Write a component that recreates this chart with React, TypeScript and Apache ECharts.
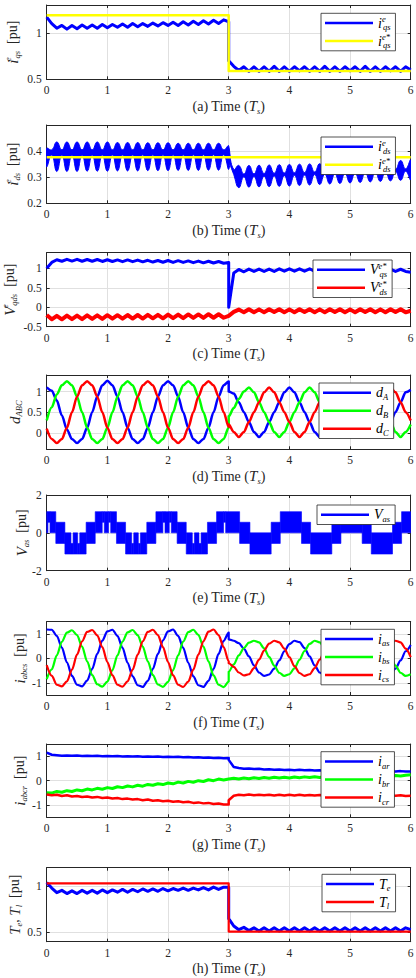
import React, { useEffect, useRef } from "react";
import * as echarts from "echarts";

const FONT = '"Liberation Serif", "DejaVu Serif", serif';
const AX = "#262626";
const GRIDC = "#e0e0e0";
const BLUE = "#0000ff";
const RED = "#ff0000";
const GREEN = "#00ff00";
const YELLOW = "#ffff00";

const STEP = 1 / 12; // sampling step (Ts) of the values
const X_TICKS = [0, 1, 2, 3, 4, 5, 6];

// ---------- (a) i_qs ----------
const A_IQS_PRE = [1.17, 1.1, 1.05, 1.08, 1.04, 1.08, 1.045, 1.085, 1.05, 1.085, 1.05, 1.09, 1.055, 1.09, 1.06, 1.095, 1.06, 1.1, 1.065, 1.1, 1.07, 1.105, 1.075, 1.11, 1.08, 1.115, 1.08, 1.12, 1.085, 1.125, 1.09, 1.13, 1.095, 1.135, 1.1, 1.14, 1.12];
const A_IQS_POST = [0.7, 0.64, 0.595, 0.635, 0.585, 0.635, 0.585, 0.635, 0.585, 0.64, 0.585, 0.635, 0.585, 0.635, 0.59, 0.635, 0.585, 0.635, 0.585, 0.64, 0.585, 0.635, 0.585, 0.635, 0.59, 0.635, 0.585, 0.64, 0.585, 0.635, 0.585, 0.635, 0.59, 0.635, 0.585, 0.635, 0.6];
const A_REF_T = [0, 3, 3, 6];
const A_REF_V = [1.19, 1.19, 0.59, 0.59];
const A_Y_TICKS = [0.5, 1];

// ---------- (b) i_ds (envelope of the band) ----------
const B_HI_PRE = [0.41, 0.405, 0.435, 0.405, 0.435, 0.405, 0.435, 0.405, 0.435, 0.405, 0.435, 0.405, 0.435, 0.405, 0.433, 0.405, 0.433, 0.405, 0.433, 0.405, 0.432, 0.405, 0.432, 0.405, 0.432, 0.405, 0.43, 0.405, 0.43, 0.405, 0.43, 0.405, 0.43, 0.405, 0.43, 0.405, 0.42];
const B_LO_PRE = [0.34, 0.385, 0.322, 0.385, 0.322, 0.385, 0.322, 0.385, 0.323, 0.385, 0.323, 0.385, 0.323, 0.385, 0.324, 0.385, 0.324, 0.385, 0.324, 0.386, 0.325, 0.386, 0.325, 0.386, 0.325, 0.386, 0.326, 0.386, 0.326, 0.386, 0.326, 0.386, 0.327, 0.386, 0.327, 0.386, 0.33];
const B_HI_POST = [0.4, 0.33, 0.345, 0.312, 0.345, 0.313, 0.346, 0.314, 0.347, 0.315, 0.348, 0.316, 0.349, 0.317, 0.35, 0.318, 0.351, 0.32, 0.352, 0.321, 0.353, 0.322, 0.355, 0.323, 0.356, 0.324, 0.357, 0.326, 0.358, 0.327, 0.36, 0.328, 0.362, 0.33, 0.364, 0.332, 0.366];
const B_LO_POST = [0.37, 0.31, 0.26, 0.302, 0.262, 0.303, 0.263, 0.304, 0.264, 0.305, 0.265, 0.306, 0.266, 0.307, 0.268, 0.308, 0.27, 0.31, 0.272, 0.311, 0.274, 0.312, 0.276, 0.314, 0.278, 0.315, 0.28, 0.317, 0.282, 0.318, 0.284, 0.32, 0.286, 0.322, 0.288, 0.323, 0.29];
const B_REF_T = [0, 6];
const B_REF_V = [0.376, 0.376];
const B_Y_TICKS = [0.2, 0.3, 0.4];

// ---------- (c) V_qs*, V_ds* ----------
const C_VQ_PRE = [1.0, 1.15, 1.22, 1.18, 1.23, 1.185, 1.23, 1.18, 1.225, 1.18, 1.225, 1.175, 1.22, 1.175, 1.215, 1.17, 1.215, 1.17, 1.21, 1.165, 1.205, 1.16, 1.2, 1.155, 1.2, 1.15, 1.195, 1.15, 1.19, 1.145, 1.185, 1.14, 1.18, 1.135, 1.175, 1.13, 1.15];
const C_VQ_POST = [0.0, 0.88, 0.97, 0.91, 0.98, 0.92, 0.98, 0.92, 0.98, 0.92, 0.985, 0.925, 0.985, 0.925, 0.985, 0.925, 0.985, 0.925, 0.985, 0.925, 0.985, 0.925, 0.985, 0.925, 0.985, 0.925, 0.985, 0.925, 0.98, 0.92, 0.98, 0.92, 0.98, 0.92, 0.975, 0.92, 0.9];
const C_VD_PRE = [-0.2, -0.31, -0.22, -0.31, -0.215, -0.305, -0.215, -0.305, -0.21, -0.3, -0.21, -0.3, -0.205, -0.295, -0.205, -0.295, -0.2, -0.29, -0.2, -0.29, -0.195, -0.285, -0.195, -0.285, -0.19, -0.28, -0.19, -0.28, -0.185, -0.275, -0.185, -0.275, -0.18, -0.27, -0.18, -0.27, -0.22];
const C_VD_POST = [-0.22, -0.12, -0.06, -0.13, -0.05, -0.13, -0.055, -0.13, -0.05, -0.125, -0.05, -0.13, -0.055, -0.13, -0.05, -0.125, -0.05, -0.13, -0.055, -0.13, -0.05, -0.125, -0.05, -0.13, -0.055, -0.13, -0.05, -0.125, -0.05, -0.13, -0.055, -0.13, -0.05, -0.125, -0.05, -0.13, -0.09];
const C_Y_TICKS = [-0.5, 0, 0.5, 1];

// ---------- (d) d_ABC ----------
const D_A_PRE = [1.1, 1.02, 0.78, 0.42, 0.08, -0.15, -0.25, -0.15, 0.12, 0.5, 0.88, 1.15, 1.26, 1.15, 0.875, 0.5, 0.125, -0.15, -0.25, -0.15, 0.125, 0.5, 0.875, 1.15, 1.25, 1.15, 0.875, 0.5, 0.125, -0.15, -0.25, -0.15, 0.125, 0.5, 0.875, 1.15, 1.24];
const D_B_PRE = [0.3, 0.62, 0.93, 1.15, 1.25, 1.15, 0.875, 0.5, 0.125, -0.15, -0.25, -0.15, 0.125, 0.5, 0.875, 1.15, 1.25, 1.15, 0.875, 0.5, 0.125, -0.15, -0.25, -0.15, 0.125, 0.5, 0.875, 1.15, 1.25, 1.15, 0.875, 0.5, 0.125, -0.15, -0.25, -0.15, 0.13];
const D_C_PRE = [0.1, -0.15, -0.25, -0.15, 0.125, 0.5, 0.875, 1.15, 1.25, 1.15, 0.875, 0.5, 0.125, -0.15, -0.25, -0.15, 0.125, 0.5, 0.875, 1.15, 1.25, 1.15, 0.875, 0.5, 0.125, -0.15, -0.25, -0.15, 0.125, 0.5, 0.875, 1.15, 1.25, 1.15, 0.875, 0.5, 0.14];
const D_A_POST = [1.0, 0.95, 0.74, 0.5, 0.26, 0.02, -0.1, 0.02, 0.26, 0.5, 0.74, 0.98, 1.1, 0.98, 0.74, 0.5, 0.26, 0.02, -0.1, 0.02, 0.26, 0.5, 0.74, 0.98, 1.1, 0.98, 0.74, 0.5, 0.26, 0.02, -0.1, 0.02, 0.26, 0.5, 0.74, 0.98, 1.04];
const D_B_POST = [0.4, 0.6, 0.82, 1.0, 1.1, 0.98, 0.74, 0.5, 0.26, 0.02, -0.1, 0.02, 0.26, 0.5, 0.74, 0.98, 1.1, 0.98, 0.74, 0.5, 0.26, 0.02, -0.1, 0.02, 0.26, 0.5, 0.74, 0.98, 1.1, 0.98, 0.74, 0.5, 0.26, 0.02, -0.1, 0.02, 0.2];
const D_C_POST = [0.2, 0.02, -0.1, 0.02, 0.26, 0.5, 0.74, 0.98, 1.1, 0.98, 0.74, 0.5, 0.26, 0.02, -0.1, 0.02, 0.26, 0.5, 0.74, 0.98, 1.1, 0.98, 0.74, 0.5, 0.26, 0.02, -0.1, 0.02, 0.26, 0.5, 0.74, 0.98, 1.1, 0.98, 0.74, 0.5, 0.3];
const D_Y_TICKS = [0, 0.5, 1];

// ---------- (e) V_as : PWM blocks (interval edges, lower / upper level) ----------
const E_EDGES = [0, 0.02, 0.055, 0.15, 0.3, 0.4, 0.435, 0.51, 0.545, 0.65, 0.8, 0.915, 0.95, 1.02, 1.055, 1.15, 1.3, 1.4, 1.435, 1.51, 1.545, 1.65, 1.8, 1.915, 1.95, 2.02, 2.055, 2.15, 2.3, 2.4, 2.435, 2.51, 2.545, 2.65, 2.8, 2.915, 2.95, 3.18, 3.35, 3.7, 3.85, 4.2, 4.35, 4.7, 4.85, 5.2, 5.35, 5.7, 5.85, 6.0];
const E_LO = [0, 0.56, 0, -0.56, -1.12, -1.12, -1.12, -1.12, -1.12, -0.56, 0, 0.56, 0, 0.56, 0, -0.56, -1.12, -1.12, -1.12, -1.12, -1.12, -0.56, 0, 0.56, 0, 0.56, 0, -0.56, -1.12, -1.12, -1.12, -1.12, -1.12, -0.56, 0, 0.56, 0, -0.56, -1.12, -0.56, 0, -0.56, -1.12, -0.56, 0, -0.56, -1.12, -0.56, 0];
const E_HI = [1.12, 1.12, 1.12, 0.56, 0, -0.56, 0, -0.56, 0, 0.56, 1.12, 1.12, 1.12, 1.12, 1.12, 0.56, 0, -0.56, 0, -0.56, 0, 0.56, 1.12, 1.12, 1.12, 1.12, 1.12, 0.56, 0, -0.56, 0, -0.56, 0, 0.56, 1.12, 1.12, 1.12, 0.56, 0, 0.56, 1.12, 0.56, 0, 0.56, 1.12, 0.56, 0, 0.56, 1.12];
const E_Y_TICKS = [-2, 0, 2];

// ---------- (f) i_abcs ----------
const F_A_PRE = [1.18, 1.17, 0.92, 0.44, -0.16, -0.72, -1.08, -1.15, -0.91, -0.43, 0.18, 0.73, 1.1, 1.17, 0.92, 0.43, -0.18, -0.74, -1.1, -1.17, -0.92, -0.43, 0.18, 0.74, 1.1, 1.18, 0.92, 0.43, -0.18, -0.74, -1.1, -1.17, -0.92, -0.43, 0.18, 0.72, 1.05];
const F_B_PRE = [-0.85, -0.45, 0.12, 0.68, 1.05, 1.15, 0.95, 0.48, -0.12, -0.69, -1.06, -1.16, -0.95, -0.48, 0.12, 0.69, 1.06, 1.16, 0.95, 0.48, -0.12, -0.69, -1.07, -1.17, -0.96, -0.48, 0.12, 0.69, 1.07, 1.17, 0.96, 0.48, -0.12, -0.7, -1.08, -1.18, -0.95];
const F_C_PRE = [-0.28, -0.72, -1.08, -1.15, -0.94, -0.46, 0.15, 0.7, 1.08, 1.16, 0.94, 0.46, -0.15, -0.7, -1.08, -1.16, -0.94, -0.46, 0.15, 0.7, 1.08, 1.17, 0.95, 0.46, -0.15, -0.7, -1.08, -1.17, -0.95, -0.46, 0.15, 0.7, 1.09, 1.18, 0.95, 0.46, -0.12];
const F_A_POST = [0.78, 0.72, 0.62, 0.4, 0.08, -0.29, -0.58, -0.72, -0.66, -0.42, -0.08, 0.29, 0.58, 0.72, 0.66, 0.42, 0.08, -0.29, -0.58, -0.72, -0.66, -0.42, -0.08, 0.29, 0.58, 0.72, 0.66, 0.42, 0.08, -0.29, -0.58, -0.72, -0.66, -0.42, -0.08, 0.29, 0.55];
const F_B_POST = [-0.55, -0.25, 0.12, 0.42, 0.64, 0.72, 0.65, 0.41, 0.06, -0.3, -0.59, -0.72, -0.65, -0.41, -0.06, 0.3, 0.59, 0.72, 0.65, 0.41, 0.06, -0.3, -0.59, -0.72, -0.65, -0.41, -0.06, 0.3, 0.59, 0.72, 0.65, 0.41, 0.06, -0.3, -0.59, -0.72, -0.65];
const F_C_POST = [-0.2, -0.35, -0.58, -0.7, -0.65, -0.4, -0.05, 0.32, 0.6, 0.72, 0.65, 0.4, 0.05, -0.32, -0.6, -0.72, -0.65, -0.4, -0.05, 0.32, 0.6, 0.72, 0.65, 0.4, 0.05, -0.32, -0.6, -0.72, -0.65, -0.4, -0.05, 0.32, 0.6, 0.72, 0.65, 0.4, 0.05];
const F_Y_TICKS = [-1, 0, 1];

// ---------- (g) i_abcr ----------
const G_A_PRE = [1.15, 1.06, 1.04, 1.02, 1.03, 1.015, 1.025, 1.01, 1.02, 1.005, 1.015, 1.0, 1.01, 0.995, 1.005, 0.99, 1.0, 0.985, 0.995, 0.98, 0.99, 0.975, 0.985, 0.97, 0.98, 0.965, 0.975, 0.955, 0.965, 0.95, 0.96, 0.94, 0.95, 0.93, 0.94, 0.92, 0.93];
const G_A_POST = [0.85, 0.56, 0.52, 0.49, 0.5, 0.475, 0.485, 0.46, 0.47, 0.45, 0.46, 0.44, 0.45, 0.43, 0.445, 0.425, 0.44, 0.42, 0.43, 0.41, 0.425, 0.405, 0.42, 0.4, 0.415, 0.395, 0.41, 0.39, 0.405, 0.385, 0.4, 0.38, 0.395, 0.375, 0.39, 0.37, 0.37];
const G_B_PRE = [-0.5, -0.51, -0.44, -0.475, -0.41, -0.445, -0.38, -0.415, -0.345, -0.38, -0.315, -0.35, -0.285, -0.32, -0.25, -0.285, -0.22, -0.255, -0.19, -0.225, -0.155, -0.19, -0.125, -0.16, -0.095, -0.13, -0.06, -0.095, -0.03, -0.065, 0.0, -0.035, 0.035, 0.0, 0.065, 0.03, 0.07];
const G_B_POST = [0.08, 0.1, 0.07, 0.11, 0.08, 0.12, 0.09, 0.13, 0.1, 0.135, 0.105, 0.14, 0.11, 0.15, 0.12, 0.155, 0.125, 0.16, 0.13, 0.17, 0.14, 0.175, 0.145, 0.18, 0.15, 0.19, 0.16, 0.195, 0.165, 0.2, 0.17, 0.21, 0.18, 0.215, 0.19, 0.225, 0.24];
const G_C_PRE = [-0.57, -0.6, -0.58, -0.625, -0.6, -0.65, -0.625, -0.67, -0.645, -0.69, -0.665, -0.71, -0.69, -0.73, -0.71, -0.755, -0.735, -0.775, -0.755, -0.8, -0.775, -0.82, -0.8, -0.84, -0.82, -0.865, -0.845, -0.885, -0.865, -0.91, -0.89, -0.93, -0.91, -0.955, -0.935, -0.975, -0.98];
const G_C_POST = [-0.8, -0.62, -0.58, -0.6, -0.57, -0.6, -0.575, -0.6, -0.575, -0.605, -0.58, -0.605, -0.58, -0.605, -0.58, -0.61, -0.585, -0.61, -0.585, -0.61, -0.585, -0.61, -0.59, -0.615, -0.59, -0.615, -0.59, -0.615, -0.595, -0.62, -0.595, -0.62, -0.6, -0.62, -0.6, -0.625, -0.62];
const G_Y_TICKS = [-1, 0, 1];

// ---------- (h) T_e, T_l ----------
const H_TE_PRE = [1.04, 0.98, 0.93, 0.955, 0.92, 0.95, 0.92, 0.955, 0.925, 0.955, 0.925, 0.96, 0.93, 0.96, 0.935, 0.965, 0.935, 0.965, 0.94, 0.97, 0.945, 0.97, 0.945, 0.975, 0.95, 0.975, 0.955, 0.98, 0.955, 0.98, 0.96, 0.985, 0.96, 0.99, 0.965, 0.99, 0.99];
const H_TE_POST = [0.65, 0.57, 0.53, 0.555, 0.52, 0.55, 0.515, 0.55, 0.515, 0.55, 0.515, 0.55, 0.515, 0.55, 0.515, 0.55, 0.515, 0.55, 0.515, 0.55, 0.515, 0.55, 0.515, 0.55, 0.515, 0.55, 0.515, 0.55, 0.515, 0.55, 0.515, 0.55, 0.515, 0.55, 0.515, 0.55, 0.53];
const H_TL_T = [0, 3, 3, 6];
const H_TL_V = [1.03, 1.03, 0.51, 0.51];
const H_Y_TICKS = [0.5, 1];

// ---------- labels ----------
const LEG: Record<string, string> = {
  iqs: "{m|i}{ps|e}{b|qs}",
  iqsr: "{m|i}{ps|e*}{b|qs}",
  ids: "{m|i}{ps|e}{b|ds}",
  idsr: "{m|i}{ps|e*}{b|ds}",
  vqs: "{m|V}{ps|e*}{b|qs}",
  vds: "{m|V}{ps|e*}{b|ds}",
  dA: "{m|d}{b|A}",
  dB: "{m|d}{b|B}",
  dC: "{m|d}{b|C}",
  vas: "{m|V}{b|as}",
  ias: "{m|i}{b|as}",
  ibs: "{m|i}{b|bs}",
  ics: "{m|i}{b|cs}",
  iar: "{m|i}{b|ar}",
  ibr: "{m|i}{b|br}",
  icr: "{m|i}{b|cr}",
  Te: "{m|T}{b|e}",
  Tl: "{m|T}{b|l}",
};

const PANELS = [
  { letter: "a", top: 5, height: 74.3, min: 0.5, max: 1.3, ticks: A_Y_TICKS, yName: "{m|i}{ps|e}{b|qs}{n|  [pu]}", gap: 25, legend: { left: 321, top: 13.3, names: ["iqs", "iqsr"] } },
  { letter: "b", top: 125, height: 78.3, min: 0.2, max: 0.5, ticks: B_Y_TICKS, yName: "{m|i}{ps|e}{b|ds}{n|  [pu]}", gap: 25, legend: { left: 321, top: 137, names: ["ids", "idsr"] } },
  { letter: "c", top: 252.7, height: 74, min: -0.5, max: 1.4, ticks: C_Y_TICKS, yName: "{m|V}{ps|e}{b|qds}{n|  [pu]}", gap: 28, legend: { left: 313, top: 260, names: ["vqs", "vds"] } },
  { letter: "d", top: 375, height: 74.3, min: -0.4, max: 1.4, ticks: D_Y_TICKS, yName: "{m|d}{b|ABC}", gap: 23, legend: { left: 319, top: 383, names: ["dA", "dB", "dC"] } },
  { letter: "e", top: 495, height: 75.7, min: -2, max: 2, ticks: E_Y_TICKS, yName: "{m|V}{b|as}{n|  [pu]}", gap: 16, legend: { left: 317, top: 505, names: ["vas"] } },
  { letter: "f", top: 621.7, height: 73.3, min: -1.5, max: 1.5, ticks: F_Y_TICKS, yName: "{m|i}{b|abcs}{n|  [pu]}", gap: 18, legend: { left: 321, top: 629.3, names: ["ias", "ibs", "ics"] } },
  { letter: "g", top: 744, height: 73.3, min: -1.5, max: 1.5, ticks: G_Y_TICKS, yName: "{m|i}{b|abcr}{n|  [pu]}", gap: 18, legend: { left: 321, top: 751.7, names: ["iar", "ibr", "icr"] } },
  { letter: "h", top: 867.7, height: 74, min: 0.4, max: 1.2, ticks: H_Y_TICKS, yName: "{m|T}{b|e}{n|, }{m|T}{b|l}{n|  [pu]}", gap: 23, legend: { left: 322, top: 874.3, names: ["Te", "Tl"] } },
];

const richAx = {
  n: { fontFamily: FONT, fontSize: 14, color: AX, lineHeight: 18, verticalAlign: "middle" },
  m: { fontFamily: FONT, fontStyle: "italic", fontSize: 15, color: AX, lineHeight: 18, verticalAlign: "middle" },
  ps: { fontFamily: FONT, fontStyle: "italic", fontSize: 8.5, color: AX, verticalAlign: "top", width: 1 },
  b: { fontFamily: FONT, fontStyle: "italic", fontSize: 8.5, color: AX, verticalAlign: "bottom" },
};
const richLeg = {
  m: { fontFamily: FONT, fontStyle: "italic", fontSize: 14, color: "#000", lineHeight: 17.5, verticalAlign: "middle" },
  ps: { fontFamily: FONT, fontStyle: "italic", fontSize: 8.5, color: "#000", verticalAlign: "top", width: 1 },
  b: { fontFamily: FONT, fontStyle: "italic", fontSize: 8.5, color: "#000", verticalAlign: "bottom" },
};

const pts = (t0: number, vals: number[]) => vals.map((v, k) => [t0 + k * STEP, v]);
const joined = (pre: number[], post: number[]) => [...pts(0, pre), ...pts(3, post)];
const pairs = (ts: number[], vs: number[]) => ts.map((t, i) => [t, vs[i]]);

function lineSeries(name: string, panel: number, data: number[][], color: string, width: number, smooth = 0) {
  return {
    type: "line",
    name,
    xAxisIndex: panel * 2,
    yAxisIndex: panel * 2,
    data,
    showSymbol: false,
    symbol: "none",
    smooth: smooth || false,
    smoothMonotone: "x",
    lineStyle: { color, width, join: "round" },
    itemStyle: { color },
    silent: true,
    animation: false,
    clip: true,
  };
}

const BAND_SEGS = [
  { t0: 0, hi: B_HI_PRE, lo: B_LO_PRE },
  { t0: 3, hi: B_HI_POST, lo: B_LO_POST },
];

function buildOption() {
  const grid = PANELS.map((p) => ({ left: 46.7, width: 364, top: p.top, height: p.height, containLabel: false, outerBoundsMode: "none" }));
  const xAxis: any[] = [];
  const yAxis: any[] = [];
  PANELS.forEach((p, i) => {
    xAxis.push({
      type: "value", gridIndex: i, min: 0, max: 6, interval: 1, position: "bottom",
      axisLine: { show: true, onZero: false, lineStyle: { color: AX, width: 1 } },
      axisTick: { show: true, inside: true, length: 3, customValues: X_TICKS, lineStyle: { color: AX } },
      axisLabel: { show: true, customValues: X_TICKS, fontFamily: FONT, fontSize: 11.5, color: AX, margin: 5, formatter: (v: number) => String(v) },
      splitLine: { show: true, lineStyle: { color: GRIDC, width: 1 } },
      name: `{n|(${p.letter}) Time (}{m|T}{b|s}{n|)}`,
      nameLocation: "middle", nameGap: 18, nameMoveOverlap: false,
      nameTextStyle: { rich: richAx, fontFamily: FONT, color: AX },
    });
    xAxis.push({
      type: "value", gridIndex: i, min: 0, max: 6, interval: 1, position: "top",
      axisLine: { show: true, onZero: false, lineStyle: { color: AX, width: 1 } },
      axisTick: { show: true, inside: true, length: 3, customValues: X_TICKS, lineStyle: { color: AX } },
      axisLabel: { show: false },
      splitLine: { show: false },
    });
    yAxis.push({
      type: "value", gridIndex: i, min: p.min, max: p.max, position: "left",
      axisLine: { show: true, onZero: false, lineStyle: { color: AX, width: 1 } },
      axisTick: { show: true, inside: true, length: 3, customValues: p.ticks, lineStyle: { color: AX } },
      axisLabel: { show: true, customValues: p.ticks, fontFamily: FONT, fontSize: 11.5, color: AX, margin: 5, formatter: (v: number) => String(v) },
      splitLine: { show: true, lineStyle: { color: GRIDC, width: 1 } },
      name: p.yName, nameLocation: "middle", nameRotate: 90, nameGap: p.gap, nameMoveOverlap: false,
      nameTextStyle: { rich: richAx, fontFamily: FONT, color: AX },
    });
    yAxis.push({
      type: "value", gridIndex: i, min: p.min, max: p.max, position: "right",
      axisLine: { show: true, onZero: false, lineStyle: { color: AX, width: 1 } },
      axisTick: { show: true, inside: true, length: 3, customValues: p.ticks, lineStyle: { color: AX } },
      axisLabel: { show: false },
      splitLine: { show: false },
    });
  });

  const series: any[] = [
    // (a)
    lineSeries("iqs", 0, joined(A_IQS_PRE, A_IQS_POST), BLUE, 3),
    lineSeries("iqsr", 0, pairs(A_REF_T, A_REF_V), YELLOW, 2.5),
    // (b)
    {
      type: "custom", name: "ids", xAxisIndex: 2, yAxisIndex: 2, clip: true, silent: true, animation: false,
      data: BAND_SEGS.map((s) => [s.t0, s.lo[0]]),
      encode: { x: 0, y: 1 },
      itemStyle: { color: BLUE },
      renderItem: (params: any, api: any) => {
        const s = BAND_SEGS[params.dataIndex];
        const up = s.hi.map((v, k) => api.coord([s.t0 + k * STEP, v]));
        const dn = s.lo.map((v, k) => api.coord([s.t0 + k * STEP, v])).reverse();
        return { type: "polygon", shape: { points: up.concat(dn), smooth: 0.5 }, style: { fill: BLUE, stroke: BLUE, lineWidth: 1 } };
      },
    },
    lineSeries("idsr", 1, pairs(B_REF_T, B_REF_V), YELLOW, 2.5),
    // (c)
    lineSeries("vqs", 2, joined(C_VQ_PRE, C_VQ_POST), BLUE, 3),
    lineSeries("vds", 2, joined(C_VD_PRE, C_VD_POST), RED, 4),
    // (d)
    lineSeries("dA", 3, joined(D_A_PRE, D_A_POST), BLUE, 2.5, 0.3),
    lineSeries("dB", 3, joined(D_B_PRE, D_B_POST), GREEN, 2.5, 0.3),
    lineSeries("dC", 3, joined(D_C_PRE, D_C_POST), RED, 2.5, 0.3),
    // (e)
    {
      type: "custom", name: "vas", xAxisIndex: 8, yAxisIndex: 8, clip: true, silent: true, animation: false,
      data: E_LO.map((lo, i) => [E_EDGES[i], E_EDGES[i + 1], lo, E_HI[i]]),
      encode: { x: [0, 1], y: [2, 3] },
      itemStyle: { color: BLUE },
      renderItem: (params: any, api: any) => {
        const a = api.coord([api.value(0), api.value(3)]);
        const b = api.coord([api.value(1), api.value(2)]);
        return { type: "rect", shape: { x: a[0], y: a[1], width: b[0] - a[0], height: b[1] - a[1] }, style: { fill: BLUE, stroke: BLUE, lineWidth: 0.6 } };
      },
    },
    // (f)
    lineSeries("ias", 5, joined(F_A_PRE, F_A_POST), BLUE, 2.2, 0.3),
    lineSeries("ibs", 5, joined(F_B_PRE, F_B_POST), GREEN, 2.2, 0.3),
    lineSeries("ics", 5, joined(F_C_PRE, F_C_POST), RED, 2.2, 0.3),
    // (g)
    lineSeries("iar", 6, joined(G_A_PRE, G_A_POST), BLUE, 2.5),
    lineSeries("ibr", 6, joined(G_B_PRE, G_B_POST), GREEN, 3),
    lineSeries("icr", 6, joined(G_C_PRE, G_C_POST), RED, 2.5),
    // (h)
    lineSeries("Te", 7, joined(H_TE_PRE, H_TE_POST), BLUE, 3),
    lineSeries("Tl", 7, pairs(H_TL_T, H_TL_V), RED, 2.2),
  ];

  const legend = PANELS.map((p) => ({
    show: true, orient: "vertical", left: p.legend.left, top: p.legend.top,
    data: p.legend.names.map((n) => ({ name: n, icon: "rect" })),
    itemWidth: 48, itemHeight: 2.5, itemGap: 0.5, padding: [1, 5, 1, 4],
    backgroundColor: "#ffffff", borderColor: AX, borderWidth: 0.8, borderRadius: 0,
    selectedMode: false, formatter: (n: string) => LEG[n],
    textStyle: { fontFamily: FONT, fontSize: 14, color: "#000", lineHeight: 17.5, rich: richLeg },
    z: 10,
  }));

  return { animation: false, backgroundColor: "#ffffff", grid, xAxis, yAxis, series, legend };
}

export default function App() {
  const ref = useRef<HTMLDivElement>(null);
  useEffect(() => {
    document.body.style.margin = "0";
    const chart = echarts.init(ref.current as HTMLDivElement, null, { renderer: "svg", width: 416, height: 978 });
    chart.setOption(buildOption() as any);
    return () => chart.dispose();
  }, []);
  return <div ref={ref} style={{ width: 416, height: 978, background: "#fff" }} />;
}
